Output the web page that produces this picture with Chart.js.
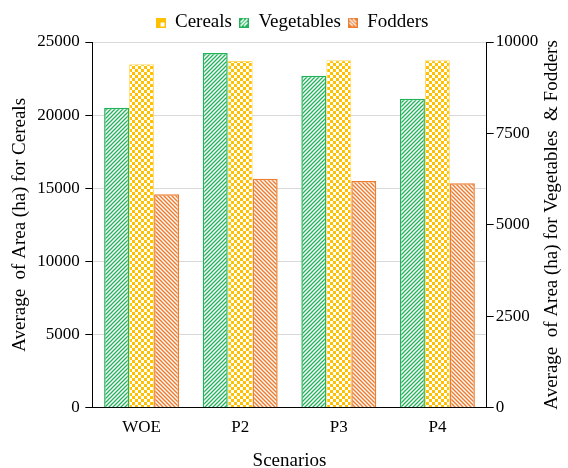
<!DOCTYPE html>
<html>
<head>
<meta charset="utf-8">
<script src="https://cdn.jsdelivr.net/npm/chart.js@4/dist/chart.umd.min.js"></script>
<style>
  html, body { margin: 0; padding: 0; background: #fff; }
  #wrap { width: 568px; height: 468px; }
</style>
</head>
<body>
<div id="wrap"><canvas id="chart" width="568" height="468"></canvas></div>
<script>
// data
const scenarios = ['WOE', 'P2', 'P3', 'P4'];
const cereals = [23480, 23700, 23750, 23750];
const vegetables = [8200, 9700, 9080, 8450];
const fodders = [5840, 6260, 6200, 6140];
const leftTicks = [0, 5000, 10000, 15000, 20000, 25000];
const rightTicks = [0, 2500, 5000, 7500, 10000];

const FONT = "'Liberation Serif', 'DejaVu Serif', serif";
const TITLE_SIZE = 19;
const TICK_SIZE = 17;
const RIGHT_TITLE = 'Average  of Area (ha) for Vegetables  & Fodders';

const green = '#22b35a';
const yellow = '#ffc000';
const orange = '#ed7d31';

// --- pattern helpers ---
function makeHatch(color, dir, width) {
    const c = document.createElement('canvas');
    c.width = 4; c.height = 4;
    const g = c.getContext('2d');
    g.fillStyle = '#fff';
    g.fillRect(0, 0, 4, 4);
    g.strokeStyle = color;
    g.lineWidth = width;
    g.beginPath();
    if (dir > 0) {
        g.moveTo(0, 4); g.lineTo(4, 0);
        g.moveTo(-1, 1); g.lineTo(1, -1);
        g.moveTo(3, 5); g.lineTo(5, 3);
    } else {
        g.moveTo(0, 0); g.lineTo(4, 4);
        g.moveTo(-1, 3); g.lineTo(1, 5);
        g.moveTo(3, -1); g.lineTo(5, 1);
    }
    g.stroke();
    return g.createPattern(c, 'repeat');
}

function makeChecker(color) {
    const c = document.createElement('canvas');
    c.width = 6; c.height = 6;
    const g = c.getContext('2d');
    g.fillStyle = '#fff';
    g.fillRect(0, 0, 6, 6);
    g.fillStyle = color;
    g.fillRect(0, 0, 3, 3);
    g.fillRect(3, 3, 3, 3);
    return g.createPattern(c, 'repeat');
}

// small legend swatches, drawn as images like the zoomed-in pattern in the reference
function swatch(kind) {
    const c = document.createElement('canvas');
    c.width = 10; c.height = 10;
    const g = c.getContext('2d');
    if (kind === 'Cereals') {
        g.fillStyle = yellow;
        g.fillRect(0, 0, 10, 10);
        g.fillStyle = '#fff';
        g.fillRect(5, 5, 4, 4);
    } else if (kind === 'Vegetables') {
        g.fillStyle = green;
        g.fillRect(0, 0, 10, 10);
        g.strokeStyle = '#fff';
        g.lineWidth = 1.6;
        g.beginPath();
        g.moveTo(1.5, 8.5); g.lineTo(8.5, 1.5);
        g.moveTo(1.5, 5); g.lineTo(5, 1.5);
        g.moveTo(5, 8.5); g.lineTo(8.5, 5);
        g.stroke();
    } else {
        g.fillStyle = orange;
        g.fillRect(0, 0, 10, 10);
        g.strokeStyle = '#fff';
        g.lineWidth = 1.4;
        g.beginPath();
        g.moveTo(1.5, 1.5); g.lineTo(8.5, 8.5);
        g.moveTo(1.5, 5); g.lineTo(5, 8.5);
        g.moveTo(5, 1.5); g.lineTo(8.5, 5);
        g.stroke();
    }
    return c;
}

// right axis title reads bottom-to-top in the reference, chart.js turns it the other way
const rightTitlePlugin = {
    id: 'rightTitle',
    afterLayout(chart) {
        // legend sits a bit right of centre in the reference
        chart.legend.left += 8;
        chart.legend.right += 8;
    },
    afterDraw(chart) {
        const s = chart.scales.y1;
        const c = chart.ctx;
        const lh = TITLE_SIZE * 1.2;
        c.save();
        c.translate(s.right - 2 - lh / 2, (s.top + s.bottom) / 2);
        c.rotate(-Math.PI / 2);
        c.font = TITLE_SIZE + 'px ' + FONT;
        c.fillStyle = '#000';
        c.textAlign = 'center';
        c.textBaseline = 'middle';
        c.fillText(RIGHT_TITLE, 0, 0);
        c.restore();
    }
};

const ctx = document.getElementById('chart').getContext('2d');
new Chart(ctx, {
    type: 'bar',
    data: {
        labels: scenarios,
        datasets: [
            {
                label: 'Vegetables',
                data: vegetables,
                yAxisID: 'y1',
                backgroundColor: makeHatch(green, 1, 1.3),
                borderColor: green,
                borderWidth: 1.5
            },
            {
                label: 'Cereals',
                data: cereals,
                yAxisID: 'y',
                backgroundColor: makeChecker(yellow),
                borderColor: '#ffd966',
                borderWidth: 1
            },
            {
                label: 'Fodders',
                data: fodders,
                yAxisID: 'y1',
                backgroundColor: makeHatch(orange, -1, 1.5),
                borderColor: orange,
                borderWidth: 1.5
            }
        ]
    },
    plugins: [rightTitlePlugin],
    options: {
        responsive: false,
        animation: false,
        layout: { padding: { left: 3, right: 3, top: 6, bottom: -4 } },
        datasets: {
            bar: { barPercentage: 1.0, categoryPercentage: 0.76 }
        },
        plugins: {
            tooltip: { enabled: false },
            legend: {
                position: 'top',
                labels: {
                    color: '#000',
                    font: { family: FONT, size: TITLE_SIZE },
                    usePointStyle: true,
                    boxWidth: 10,
                    boxHeight: 10,
                    padding: 7,
                    generateLabels: chart => {
                        const items = Chart.defaults.plugins.legend.labels.generateLabels(chart);
                        items.forEach(it => { it.pointStyle = swatch(it.text); });
                        return items;
                    },
                    sort: (a, b) => {
                        const want = ['Cereals', 'Vegetables', 'Fodders'];
                        return want.indexOf(a.text) - want.indexOf(b.text);
                    }
                }
            }
        },
        scales: {
            x: {
                grid: { display: false },
                border: { display: true, color: '#000', width: 1 },
                ticks: { color: '#000', font: { family: FONT, size: TICK_SIZE }, padding: 2 },
                title: {
                    display: true,
                    text: 'Scenarios',
                    color: '#000',
                    font: { family: FONT, size: TITLE_SIZE },
                    padding: { top: 9, bottom: 0 }
                }
            },
            y: {
                position: 'left',
                min: 0,
                max: 25000,
                afterBuildTicks: axis => { axis.ticks = leftTicks.map(v => ({ value: v })); },
                grid: { color: '#d9d9d9', tickColor: '#000', tickLength: 7 },
                border: { display: true, color: '#000', width: 1 },
                ticks: {
                    color: '#000',
                    font: { family: FONT, size: TICK_SIZE },
                    padding: 5.5,
                    callback: v => String(v)
                },
                title: {
                    display: true,
                    text: 'Average  of Area (ha) for Cereals',
                    color: '#000',
                    font: { family: FONT, size: TITLE_SIZE },
                    padding: { top: 6, bottom: 0 }
                }
            },
            y1: {
                position: 'right',
                min: 0,
                max: 10000,
                afterBuildTicks: axis => { axis.ticks = rightTicks.map(v => ({ value: v })); },
                grid: { drawOnChartArea: false, tickColor: '#000', tickLength: 7 },
                border: { display: true, color: '#000', width: 1 },
                ticks: {
                    color: '#000',
                    font: { family: FONT, size: TICK_SIZE },
                    padding: 2,
                    callback: v => String(v)
                },
                title: {
                    // space is kept here, the text itself is drawn by rightTitlePlugin
                    display: true,
                    text: RIGHT_TITLE,
                    color: 'rgba(0,0,0,0)',
                    font: { family: FONT, size: TITLE_SIZE },
                    padding: { top: 2, bottom: 0 }
                }
            }
        }
    }
});
</script>
</body>
</html>
